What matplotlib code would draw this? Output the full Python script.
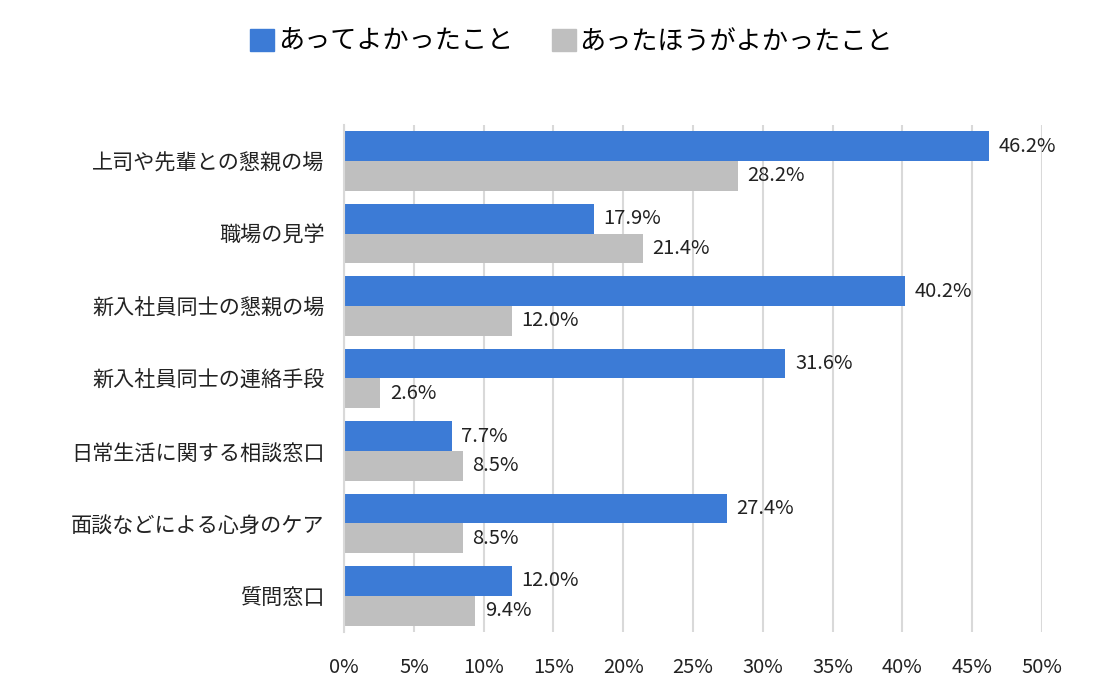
import numpy as np
import matplotlib
matplotlib.use("Agg")
import matplotlib.pyplot as plt
from matplotlib.patches import Patch

plt.rcParams['font.family'] = ['Noto Sans CJK JP', 'DejaVu Sans']

categories = ["上司や先輩との懇親の場", "職場の見学", "新入社員同士の懇親の場", "新入社員同士の連絡手段",
              "日常生活に関する相談窓口", "面談などによる心身のケア", "質問窓口"]
good = [46.2, 17.9, 40.2, 31.6, 7.7, 27.4, 12.0]
wanted = [28.2, 21.4, 12.0, 2.6, 8.5, 8.5, 9.4]
series_names = ["あってよかったこと", "あったほうがよかったこと"]
xticks = [0, 5, 10, 15, 20, 25, 30, 35, 40, 45, 50]

blue = "#3c7bd6"
gray = "#bfbfbf"

fig = plt.figure(figsize=(11.1, 6.9), dpi=100)
ax = fig.add_axes([0.31, 0.084, 0.6288, 0.735])

y = np.arange(len(categories))
h = 0.41
ax.barh(y - h / 2, good, height=h, color=blue)
ax.barh(y + h / 2, wanted, height=h, color=gray)

for yi, v in zip(y, good):
    ax.text(v + 0.7, yi - h / 2, f"{v:.1f}%", va="center", ha="left", fontsize=14.5, color="#222222")
for yi, v in zip(y, wanted):
    ax.text(v + 0.7, yi + h / 2, f"{v:.1f}%", va="center", ha="left", fontsize=14.5, color="#222222")

ax.set_xlim(0, 50)
ax.set_ylim(len(categories) - 0.5, -0.5)
ax.set_xticks(xticks)
ax.set_xticklabels([f"{t}%" for t in xticks], fontsize=14.5, color="#222222")
ax.set_yticks(y)
ax.set_yticklabels(categories, fontsize=15.2, color="#222222")
ax.tick_params(axis="both", length=0)
ax.tick_params(axis="x", pad=18)
ax.tick_params(axis="y", pad=14)
ax.xaxis.grid(True, color="#d9d9d9", linewidth=1.5)
ax.set_axisbelow(True)
for s in ["top", "right", "bottom"]:
    ax.spines[s].set_visible(False)
ax.spines["left"].set_color("#d9d9d9")
ax.spines["left"].set_linewidth(1.5)

handles = [Patch(color=blue), Patch(color=gray)]
fig.legend(handles, series_names, loc="center", bbox_to_anchor=(0.515, 0.94), ncol=2, frameon=False,
           fontsize=18.8, handlelength=0.9, handleheight=0.9, handletextpad=0.15, columnspacing=1.5)

fig.savefig("out.png", dpi=100)
